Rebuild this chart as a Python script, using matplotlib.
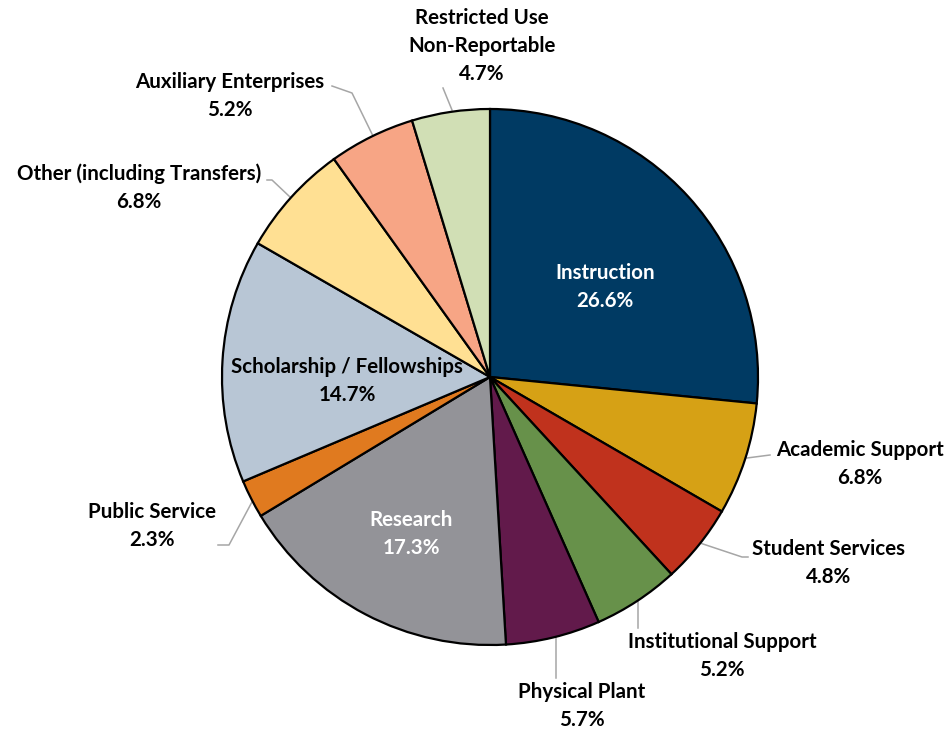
import matplotlib
matplotlib.use("Agg")
import matplotlib.pyplot as plt

############## Data ##############
categories = ["Instruction", "Academic Support", "Student Services", "Institutional Support",
              "Physical Plant", "Research", "Public Service", "Scholarship / Fellowships",
              "Other (including Transfers)", "Auxiliary Enterprises", "Restricted Use\nNon-Reportable"]
shares = [26.6, 6.8, 4.8, 5.2, 5.7, 17.3, 2.3, 14.7, 6.8, 5.2, 4.7]
colors = ["#003A63", "#D6A115", "#C0321D", "#67914A", "#621A4B", "#939398",
          "#E07A1F", "#B8C6D5", "#FFE093", "#F7A585", "#D1DFB5"]

############## Figure ##############
W, H = 951, 734
fig = plt.figure(figsize=(W / 100, H / 100), dpi=100)
ax = fig.add_axes([0, 0, 1, 1])

cx, cy, r = 490, H - 377, 268
ax.pie(shares, colors=colors, startangle=90, counterclock=False,
       center=(cx, cy), radius=r, frame=True,
       wedgeprops=dict(edgecolor="black", linewidth=1.6))
ax.set_xlim(0, W)
ax.set_ylim(0, H)
ax.set_aspect("equal")
ax.axis("off")

## label positions in pixel coords (centre of text block), text colour, leader points
font = dict(family=["Lato", "DejaVu Sans"], fontweight="bold", fontsize=14.8,
            ha="center", va="center", linespacing=1.5)
labels = [
    ((605, 287), "white", None),
    ((860, 464), "black", [(747, 458), (770, 455)]),
    ((829, 563), "black", [(700, 543), (742, 557), (748, 557)]),
    ((722, 656), "black", [(638, 600), (638, 628)]),
    ((582, 706), "black", [(556, 637), (556, 678)]),
    ((411, 534), "white", None),
    ((152, 526), "black", [(253, 500), (229, 545), (218, 545)]),
    ((347, 381), "black", None),
    ((139, 188), "black", [(290, 197), (272, 180), (267, 180)]),
    ((230, 96), "black", [(373, 136), (352, 93), (332, 86)]),
    ((482, 46), "black", [(452, 110), (443, 88)]),
]

for (name, val, (pos, tcol, leader)) in zip(categories, shares, labels):
    ax.text(pos[0], H - pos[1], "%s\n%.1f%%" % (name, val), color=tcol, **font)
    if leader:
        xs = [p[0] for p in leader]
        ys = [H - p[1] for p in leader]
        ax.plot(xs, ys, color="#A6A6A6", lw=1.1, zorder=0.5)

fig.savefig("out.png", dpi=100)
